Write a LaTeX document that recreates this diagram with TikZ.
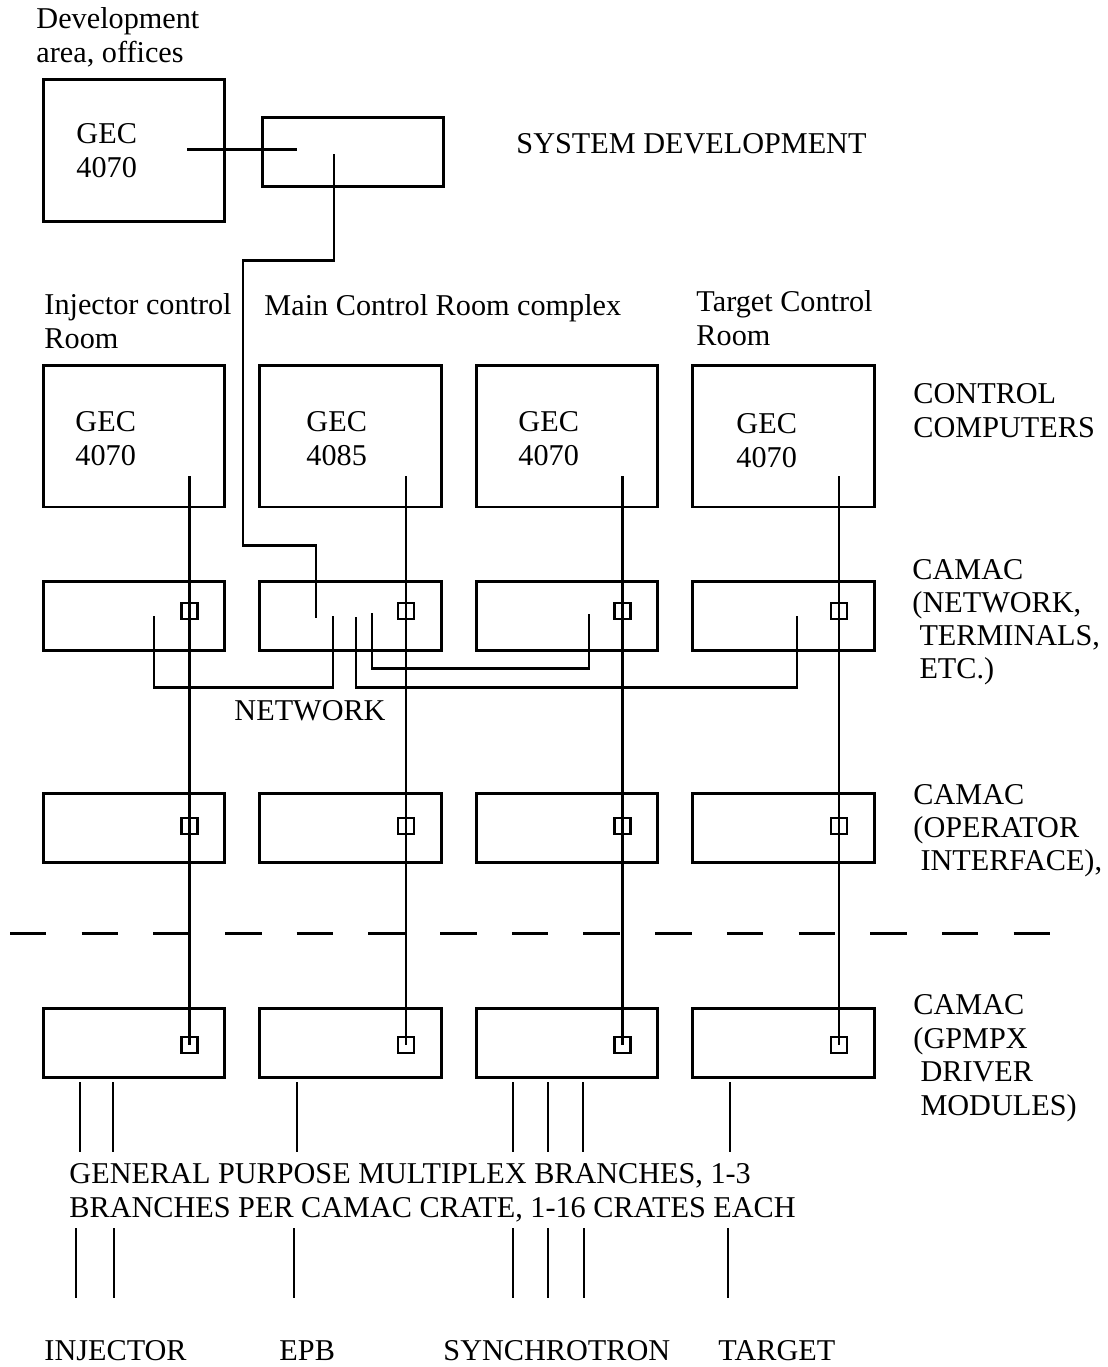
\documentclass[tikz,border=0pt]{standalone}
\usepackage{fontspec}
\setmainfont{Liberation Serif}
\usetikzlibrary{positioning, calc}

\begin{document}
\begin{tikzpicture}[x=0.02cm, y=-0.02cm, line width=1.7pt,
  lbl/.style={anchor=base west, align=left, inner sep=0pt, font=\fontsize{17.2}{19}\selectfont},
  stack/.style={lbl, font=\fontsize{17.2}{18.6}\selectfont},
  cbox/.style={draw, minimum width=3.64cm, minimum height=2.84cm, inner sep=0pt},
  crate/.style={draw, minimum width=3.64cm, minimum height=1.38cm, inner sep=0pt},
  plug/.style={draw, minimum width=0.32cm, minimum height=0.32cm, inner sep=0pt, line width=1.4pt}
]
  \useasboundingbox (0,0) rectangle (1107,1367);

  % system development
  \node[lbl] (devlbl) at (35,62) {Development\\area, offices};
  \node[cbox] (dev) at (134,150.5) {};
  \node[lbl] (devgec) at (75,177) {GEC\\4070};
  \node[crate] (sdbox) at (353,152) {};
  \node[lbl] (sdlbl) at (515,153) {SYSTEM DEVELOPMENT};
  \coordinate (devout) at (187,149);
  \coordinate (sdin) at (297,149);
  \draw (devout) -- (sdin);
  \coordinate (sdout) at (334,154);
  \coordinate (sdbend) at (243,545);
  \coordinate (mcin) at (316,618);
  \draw (sdout) -- ++(0,106) -| (sdbend) -| (mcin);

  % rooms
  \node[lbl] (injroom) at (43,348) {Injector control\\Room};
  \node[lbl] (mcroom) at (263,315) {Main Control Room complex};
  \node[lbl] (tgroom) at (695,345) {Target Control\\Room};

  % computers and camac crates
  \foreach \i/\gx/\gy/\num in {1/74/465/4070, 2/305/465/4085, 3/517/465/4070, 4/735/467/4070} {
    \pgfmathsetmacro\cx{134+216.5*(\i-1)}
    \node[cbox] (cc\i) at (\cx,436) {};
    \node[lbl] (gec\i) at (\gx,\gy) {GEC\\\num};
    \node[crate] (net\i) at (\cx,616) {};
    \node[crate] (opi\i) at (\cx,828) {};
    \node[crate] (gpm\i) at (\cx,1043) {};
    \node[plug] (pn\i) at (\cx+55.5,611) {};
    \node[plug] (po\i) at (\cx+55.5,826) {};
    \node[plug] (pg\i) at (\cx+55.5,1045) {};
    \coordinate (tap\i) at (\cx+55.5,476);
    \draw (tap\i) -- (pg\i.center);
  }

  % network
  \coordinate (nw1) at (154,616);
  \coordinate (nw2a) at (333,616);
  \coordinate (nw2b) at (356,617);
  \coordinate (nw2c) at (372,613);
  \coordinate (nw3) at (589,614);
  \coordinate (nw4) at (797,616);
  \draw (nw1) -- ++(0,71) -| (nw2a);
  \draw (nw2b) -- ++(0,70) -| (nw4);
  \draw (nw2c) -- ++(0,55) -| (nw3);
  \node[lbl] (netlbl) at (233,720) {NETWORK};

  % right hand labels
  \node[lbl] (cclbl) at (912,437) {CONTROL\\COMPUTERS};
  \node[stack] (netcam) at (911,678) {CAMAC\\(NETWORK,\\\hspace*{4pt}TERMINALS,\\\hspace*{4pt}ETC.)};
  \node[stack] (opcam) at (912,870) {CAMAC\\(OPERATOR\\\hspace*{4pt}INTERFACE),};
  \node[lbl] (gpcam) at (912,1115) {CAMAC\\(GPMPX\\\hspace*{4pt}DRIVER\\\hspace*{4pt}MODULES)};

  % cut line
  \coordinate (cutl) at (10,933);
  \coordinate (cutr) at (1058,933);
  \draw[dash pattern=on 0.73cm off 0.704cm] (cutl) -- (cutr);

  % branches
  \foreach \bx in {80,113,297,513,548,583,730}
    \draw (\bx,1082) -- (\bx,1152);
  \foreach \bx in {76,114,294,513,548,584,728}
    \draw (\bx,1228) -- (\bx,1298);
  \node[lbl] (gpmlbl) at (68,1217) {GENERAL PURPOSE MULTIPLEX BRANCHES, 1-3\\BRANCHES PER CAMAC CRATE, 1-16 CRATES EACH};
  \node[lbl] (injlbl) at (43,1360) {INJECTOR};
  \node[lbl] (epblbl) at (278,1360) {EPB};
  \node[lbl] (synlbl) at (442,1360) {SYNCHROTRON};
  \node[lbl] (tgtlbl) at (717,1360) {TARGET};
\end{tikzpicture}
\end{document}
